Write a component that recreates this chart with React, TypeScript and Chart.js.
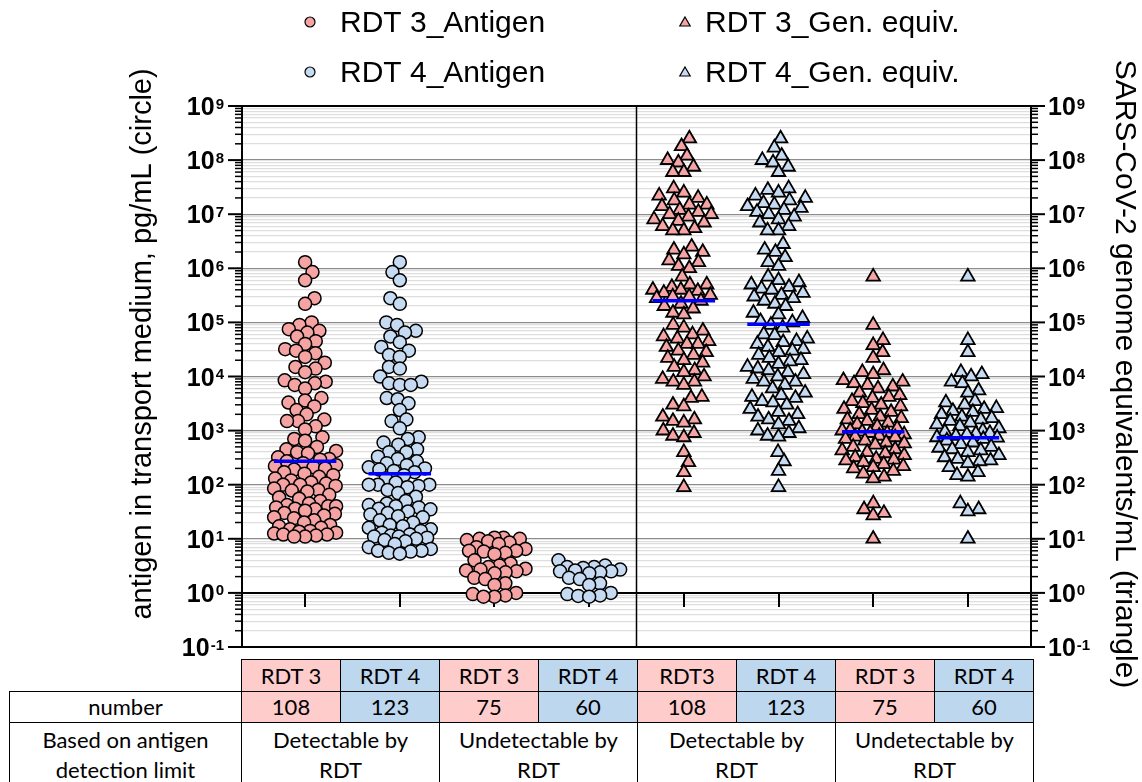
import React, { useEffect, useRef } from "react";
import { Chart, registerables } from "chart.js";

Chart.register(...registerables);

// ---------------- data ----------------
const CATEGORY_LABELS = ["RDT 3", "RDT 4", "RDT 3", "RDT 4", "RDT3", "RDT 4", "RDT 3", "RDT 4"];
const NUMBERS = [108, 123, 75, 60, 108, 123, 75, 60];
const GROUP_LABELS = ["Detectable by\nRDT", "Undetectable by\nRDT", "Detectable by\nRDT", "Undetectable by\nRDT"];
const ROW_LABELS = ["number", "Based on antigen\ndetection limit"];
const SERIES_NAMES = ["RDT 3_Antigen", "RDT 4_Antigen", "RDT 3_Gen. equiv.", "RDT 4_Gen. equiv."];
const LEFT_TITLE = "antigen in transport medium, pg/mL (circle)";
const RIGHT_TITLE = "SARS-CoV-2 genome equivalents/mL (triangle)";
const EXPONENTS = [-1, 0, 1, 2, 3, 4, 5, 6, 7, 8, 9];
const SIGNIFICANDS = [1, 2, 3, 4, 5, 6, 7, 8, 9];

// medians (blue bars); null = no bar
const MEDIANS = [270, 160, null, null, 2.5e5, 9.2e4, 950, 740];

// antigen, pg/mL (circles)
const AG_RDT3_DETECT = [1.3e6, 8.5e5, 6e5, 2.8e5, 2.2e5,
  1e5, 9e4, 7.5e4, 7e4, 6.5e4, 5.5e4, 4.5e4, 4e4, 3.2e4, 3e4, 2.7e4, 2.3e4, 1.8e4, 1.5e4, 1.4e4, 1.2e4,
  8.5e3, 8e3, 7.5e3, 7e3, 6e3, 4e3, 3.6e3, 3.3e3, 2.8e3, 2.4e3, 2e3, 1.6e3, 1.5e3, 1.5e3, 1.2e3, 1.05e3,
  750, 700, 650, 500, 450, 420, 400, 380, 320, 300, 290, 270, 250, 230, 220, 210, 200, 190, 170, 160,
  150, 140, 130, 120, 110, 105, 100, 100, 95, 85, 80, 78, 75, 65, 58, 55, 50, 45, 42, 40, 40, 38, 36,
  35, 33, 30, 29, 27, 25, 24, 22, 20, 18, 17, 16, 15, 14, 13.5, 13, 12.5, 12, 12, 11.5, 11, 11];
const AG_RDT4_DETECT = [1.3e6, 8.5e5, 6e5, 2.8e5, 2.2e5,
  1e5, 9e4, 7e4, 6.5e4, 5.5e4, 4.3e4, 3.5e4, 3e4, 2.5e4, 2.3e4, 1.5e4, 1.4e4, 1e4,
  8e3, 7.5e3, 7e3, 7e3, 4e3, 3.8e3, 3.2e3, 2.4e3, 1.6e3, 1.5e3, 1.1e3,
  750, 700, 600, 550, 450, 400, 400, 330, 300, 270, 250, 230, 210, 200, 190, 180, 170, 150, 130, 110,
  100, 100, 100, 95, 90, 80, 70, 60, 50, 45, 42, 40, 38, 36, 35, 32, 30, 28, 26, 25, 22, 20, 18, 17,
  16, 15, 14, 13, 12, 11.5, 11, 11, 10.5, 10, 9.5, 9, 8, 7, 6.5, 6, 6, 5.8, 5.5, 5.3];
const AG_RDT3_UNDET = [10.5, 10.5, 10, 10, 9.5, 9, 8.5, 8, 7, 6.5, 6, 6, 5.8, 5.5, 5.2, 4, 3.5, 3.2, 3,
  2.8, 2.7, 2.6, 2.5, 2.4, 2.3, 1.9, 1.8, 1.5, 1.4, 1.0, 0.95, 0.9, 0.85, 0.85];
const AG_RDT4_UNDET = [4, 3.2, 3, 3, 2.9, 2.7, 2.6, 2.5, 2.5, 2.4, 2.3, 1.9, 1.8, 1.5, 1.4, 1.0, 0.95,
  0.9, 0.88, 0.85];

// genome equivalents/mL (triangles)
const GE_RDT3_DETECT = [2.5e8, 1.8e8, 1.2e8, 1e8, 9e7, 7.5e7, 6e7, 6e7,
  3e7, 2.5e7, 2.2e7, 2e7, 1.8e7, 1.5e7, 1.5e7, 1.4e7, 1.2e7, 1.1e7, 1e7, 1e7, 9e6, 8e6, 7.5e6, 7e6,
  6e6, 5.5e6, 5e6, 5e6, 2.5e6, 2.2e6, 2e6, 1.8e6, 1.4e6, 1.3e6, 1.1e6, 1e6,
  7e5, 5e5, 5e5, 4.5e5, 4e5, 4e5, 3.8e5, 3.5e5, 3.2e5, 3e5, 3e5, 2.8e5, 2.5e5, 2.2e5, 2e5, 1.8e5,
  1.5e5, 1.4e5, 9e4, 8e4, 7e4, 6e4, 5.5e4, 5e4, 4.5e4, 4e4, 4e4, 3.5e4, 3e4, 2.8e4, 2.5e4, 2.2e4,
  2e4, 1.8e4, 1.5e4, 1.3e4, 1.2e4, 1e4, 9e3, 8e3, 8e3, 7e3, 4.2e3, 4e3, 3e3, 2.8e3, 1.8e3, 1.6e3,
  1.5e3, 1.4e3, 1e3, 900, 800, 750, 400, 260, 170, 90];
const GE_RDT4_DETECT = [2.5e8, 1.7e8, 1.2e8, 1e8, 9e7, 7.5e7, 6e7,
  3e7, 2.8e7, 2.5e7, 2.2e7, 2e7, 1.8e7, 1.6e7, 1.5e7, 1.4e7, 1.3e7, 1.2e7, 1.1e7, 1e7, 9e6, 8e6, 7e6,
  6e6, 5e6, 5e6, 2.8e6, 2.2e6, 2e6, 1.6e6, 1.3e6, 1.1e6,
  7e5, 6e5, 5.5e5, 5e5, 4.5e5, 4.2e5, 4e5, 3.5e5, 3.2e5, 3e5, 2.8e5, 2.5e5, 2.2e5, 2e5, 1.5e5, 1.4e5,
  1.2e5, 1.05e5, 1e5, 9e4, 8e4, 6e4, 5.8e4, 5e4, 4.5e4, 4.3e4, 4e4, 3.5e4, 3.2e4, 3e4, 2.8e4, 2.5e4,
  2.2e4, 2e4, 1.9e4, 1.7e4, 1.5e4, 1.4e4, 1.3e4, 1.2e4, 1.1e4, 1e4, 9e3, 8e3, 8e3, 7e3,
  6e3, 5e3, 4.5e3, 4.2e3, 4e3, 3.5e3, 3.3e3, 3e3, 2.5e3, 2.2e3, 2e3, 1.8e3, 1.6e3, 1.5e3, 1.3e3,
  1.1e3, 1e3, 900, 800, 770, 400, 270, 180, 90];
const GE_RDT3_UNDET = [7e5, 9e4, 4.7e4, 3.8e4, 2.8e4, 2.2e4, 1.3e4, 1.2e4, 1.1e4, 8.5e3, 8e3, 7.5e3,
  7e3, 6.5e3, 6e3, 5e3, 4.5e3, 4.2e3, 4e3, 3.5e3, 3.2e3, 3e3, 2.8e3, 2.5e3, 2.4e3, 2.2e3, 2e3, 1.8e3,
  1.7e3, 1.6e3, 1.5e3, 1.4e3, 1.3e3, 1.2e3, 1.1e3, 1e3, 1e3, 950, 900, 900, 850, 800, 770, 750, 700,
  650, 600, 580, 550, 500, 450, 430, 400, 380, 350, 320, 300, 290, 280, 260, 240, 220, 210, 200, 180,
  160, 140, 130, 45, 35, 30, 27, 10];
const GE_RDT4_UNDET = [7e5, 4.7e4, 2.8e4, 1.2e4, 1.1e4, 1e4, 8e3, 7.5e3, 5.5e3, 5e3, 3.5e3, 3.3e3,
  3e3, 2.6e3, 2.5e3, 2.3e3, 2.2e3, 2e3, 1.8e3, 1.7e3, 1.6e3, 1.5e3, 1.4e3, 1.3e3, 1.2e3, 1.1e3, 1e3,
  950, 900, 880, 850, 800, 750, 740, 700, 650, 600, 560, 500, 480, 450, 430, 400, 350, 320, 300, 280,
  270, 250, 210, 170, 150, 140, 45, 35, 32, 10];

// ---------------- styles / layout ----------------
const W = 1142;
const H = 782;
const PINK = "#F5A3A3";
const BLUE = "#C6DBF1";
const CELL_PINK = "#FFCCCC";
const CELL_BLUE = "#BDD7EE";
const GRID_MAJOR = "#8c8c8c";
const GRID_MINOR = "#dedede";
const FONT = "'Liberation Sans', Arial, Helvetica, sans-serif";
const TABLE_FONT = "Lato, 'Open Sans', sans-serif";
const X_MIN = 1 / 3;
const X_MAX = 8 + 2 / 3;
const DIVIDER_AT = 4.5;
const MEDIAN_HALF = 0.33;
const PX_PER_CAT = 94.7;
const PX_PER_DECADE = 54.1;

const TICK_VALUES: number[] = [];
EXPONENTS.forEach((e) => {
  SIGNIFICANDS.forEach((s) => {
    const v = s * Math.pow(10, e);
    if (v <= Math.pow(10, EXPONENTS[EXPONENTS.length - 1]) * 1.0000001) TICK_VALUES.push(v);
  });
});

const isDecade = (v: number) => Math.abs(Math.log10(v) - Math.round(Math.log10(v))) < 1e-9;

// deterministic beeswarm layout: returns horizontal offsets in category units
function swarmOffsets(values: number[], diameter: number, cap: number): number[] {
  const order = values.map((_, i) => i).sort((a, b) => values[a] - values[b]);
  const placed: { x: number; y: number }[] = [];
  const out = new Array(values.length).fill(0);
  const D2 = diameter * diameter;
  order.forEach((i, k) => {
    const y = Math.log10(values[i]) * PX_PER_DECADE;
    const near = placed.filter((p) => Math.abs(p.y - y) < diameter);
    const cands = [0];
    near.forEach((p) => {
      const dx = Math.sqrt(D2 - (p.y - y) * (p.y - y));
      cands.push(p.x + dx, p.x - dx);
    });
    const pref = k % 2 === 0 ? 1 : -1;
    cands.sort((a, b) => (Math.abs(a) - (Math.sign(a) === pref ? 1e-6 : 0)) - (Math.abs(b) - (Math.sign(b) === pref ? 1e-6 : 0)));
    let best = NaN;
    for (const c of cands) {
      if (Math.abs(c) > cap) continue;
      if (near.every((p) => (p.x - c) * (p.x - c) + (p.y - y) * (p.y - y) >= D2 - 1e-6)) {
        best = c;
        break;
      }
    }
    if (isNaN(best)) {
      let bm = -1;
      for (let c = -cap; c <= cap; c += 1) {
        const m = Math.min(...near.map((p) => (p.x - c) * (p.x - c) + (p.y - y) * (p.y - y)));
        if (m > bm) {
          bm = m;
          best = c;
        }
      }
    }
    placed.push({ x: best, y });
    out[i] = best / PX_PER_CAT;
  });
  return out;
}

function pointsFor(values: number[], category: number) {
  const offs = swarmOffsets(values, 11, 31);
  return values.map((v, i) => ({ x: category + offs[i], y: v }));
}

const medianData: { x: number; y: number | null }[] = [];
MEDIANS.forEach((m, i) => {
  if (m == null) return;
  medianData.push({ x: i + 1 - MEDIAN_HALF, y: m }, { x: i + 1 + MEDIAN_HALF, y: m }, { x: i + 1 + MEDIAN_HALF, y: null });
});

function line(ctx: CanvasRenderingContext2D, x1: number, y1: number, x2: number, y2: number) {
  ctx.beginPath();
  ctx.moveTo(x1, y1);
  ctx.lineTo(x2, y2);
  ctx.stroke();
}

function drawTriangle(ctx: CanvasRenderingContext2D, x: number, y: number, r: number) {
  ctx.beginPath();
  for (let k = 0; k < 3; k++) {
    const a = (k * 2 * Math.PI) / 3;
    const px = x + Math.sin(a) * r;
    const py = y - Math.cos(a) * r;
    if (k === 0) ctx.moveTo(px, py);
    else ctx.lineTo(px, py);
  }
  ctx.closePath();
}

const decorPlugin = {
  id: "decor",
  beforeDatasetsDraw(chart: any) {
    const { ctx, chartArea: a, scales } = chart;
    const xs = scales.x;
    const ys = scales.y;
    ctx.save();
    ctx.strokeStyle = "#000";
    ctx.lineWidth = 1.5;
    const xm = xs.getPixelForValue(DIVIDER_AT);
    line(ctx, xm, a.top, xm, a.bottom);
    const y1 = ys.getPixelForValue(1);
    ctx.lineWidth = 2;
    CATEGORY_LABELS.forEach((_, i) => {
      const px = Math.round(xs.getPixelForValue(i + 1));
      line(ctx, px, y1, px, y1 + 14);
    });
    ctx.restore();
  },
  afterDraw(chart: any) {
    const { ctx, chartArea: a, scales } = chart;
    const ys = scales.y;
    ctx.save();
    ctx.strokeStyle = "#000";
    ctx.fillStyle = "#000";
    ctx.lineWidth = 2;
    ctx.strokeRect(a.left, a.top, a.right - a.left, a.bottom - a.top);

    // y ticks (major/minor)
    TICK_VALUES.forEach((v) => {
      const py = ys.getPixelForValue(v);
      const major = isDecade(v);
      const len = major ? 14 : 7;
      ctx.lineWidth = major ? 2 : 1.5;
      line(ctx, a.left - len, py, a.left, py);
      line(ctx, a.right, py, a.right + len, py);
    });

    // tick labels 10^n
    ctx.textBaseline = "alphabetic";
    ctx.textAlign = "left";
    EXPONENTS.forEach((e) => {
      const py = ys.getPixelForValue(Math.pow(10, e));
      const ex = String(e);
      ctx.font = `bold 15px ${FONT}`;
      const we = ctx.measureText(ex).width;
      ctx.font = `bold 25px ${FONT}`;
      const wb = ctx.measureText("10").width;
      const lr = a.left - 18;
      ctx.fillText("10", lr - we - wb - 1, py + 9);
      const rl = a.right + 17;
      ctx.fillText("10", rl, py + 9);
      ctx.font = `bold 15px ${FONT}`;
      ctx.fillText(ex, lr - we, py + 2.5);
      ctx.fillText(ex, rl + wb + 1, py + 2.5);
    });

    // axis titles
    ctx.textAlign = "center";
    ctx.font = `29px ${FONT}`;
    ctx.save();
    ctx.translate(151, 344);
    ctx.rotate(-Math.PI / 2);
    ctx.fillText(LEFT_TITLE, 0, 0);
    ctx.restore();
    ctx.font = `30px ${FONT}`;
    ctx.save();
    ctx.translate(1116, 374);
    ctx.rotate(Math.PI / 2);
    ctx.fillText(RIGHT_TITLE, 0, 0);
    ctx.restore();

    // legend (2 x 2)
    const legend = [
      { name: SERIES_NAMES[0], color: PINK, tri: false, mx: 310, tx: 340, by: 32 },
      { name: SERIES_NAMES[2], color: PINK, tri: true, mx: 685, tx: 705, by: 32 },
      { name: SERIES_NAMES[1], color: BLUE, tri: false, mx: 310, tx: 340, by: 82 },
      { name: SERIES_NAMES[3], color: BLUE, tri: true, mx: 685, tx: 705, by: 82 },
    ];
    ctx.textAlign = "left";
    ctx.font = `30px ${FONT}`;
    legend.forEach((l) => {
      const cy = l.by - 10;
      ctx.fillStyle = l.color;
      ctx.strokeStyle = "#000";
      ctx.lineWidth = 1.2;
      if (l.tri) {
        drawTriangle(ctx, l.mx, cy + 1, 6);
      } else {
        ctx.beginPath();
        ctx.arc(l.mx, cy, 5, 0, Math.PI * 2);
      }
      ctx.fill();
      ctx.stroke();
      ctx.fillStyle = "#000";
      ctx.fillText(l.name, l.tx, l.by);
    });
    ctx.restore();
  },
};

function buildConfig(): any {
  const circle = (label: string, color: string, data: any[]) => ({
    label,
    data,
    yAxisID: "y",
    pointStyle: "circle",
    pointRadius: 6.5,
    pointBackgroundColor: color,
    pointBorderColor: "#000",
    pointBorderWidth: 1.5,
    showLine: false,
    order: 2,
  });
  const tri = (label: string, color: string, data: any[]) => ({
    label,
    data,
    yAxisID: "y2",
    pointStyle: "triangle",
    pointRadius: 7.8,
    pointBackgroundColor: color,
    pointBorderColor: "#000",
    pointBorderWidth: 1.8,
    showLine: false,
    order: 2,
  });
  return {
    type: "scatter",
    data: {
      datasets: [
        {
          label: "median",
          data: medianData,
          yAxisID: "y",
          showLine: true,
          spanGaps: false,
          borderColor: "#0000FF",
          borderWidth: 3.5,
          pointRadius: 0,
          order: 0,
        },
        circle(SERIES_NAMES[0], PINK, [...pointsFor(AG_RDT3_DETECT, 1), ...pointsFor(AG_RDT3_UNDET, 3)]),
        circle(SERIES_NAMES[1], BLUE, [...pointsFor(AG_RDT4_DETECT, 2), ...pointsFor(AG_RDT4_UNDET, 4)]),
        tri(SERIES_NAMES[2], PINK, [...pointsFor(GE_RDT3_DETECT, 5), ...pointsFor(GE_RDT3_UNDET, 7)]),
        tri(SERIES_NAMES[3], BLUE, [...pointsFor(GE_RDT4_DETECT, 6), ...pointsFor(GE_RDT4_UNDET, 8)]),
      ],
    },
    options: {
      responsive: false,
      animation: false,
      devicePixelRatio: 1,
      layout: { padding: { left: 0, right: 0, top: 106, bottom: H - 647 } },
      plugins: { legend: { display: false }, tooltip: { enabled: false } },
      scales: {
        x: { type: "linear", min: X_MIN, max: X_MAX, display: false },
        y: {
          type: "logarithmic",
          position: "left",
          min: Math.pow(10, EXPONENTS[0]),
          max: Math.pow(10, EXPONENTS[EXPONENTS.length - 1]),
          afterBuildTicks: (s: any) => {
            s.ticks = TICK_VALUES.map((v) => ({ value: v, major: isDecade(v) }));
          },
          afterFit: (s: any) => {
            s.width = 242;
          },
          ticks: { display: false },
          border: { display: false },
          grid: {
            drawTicks: false,
            color: (c: any) => {
              const v = c.tick && c.tick.value;
              if (v == null) return GRID_MINOR;
              if (Math.abs(v - 1) < 1e-9) return "#000";
              return isDecade(v) ? GRID_MAJOR : GRID_MINOR;
            },
            lineWidth: (c: any) => {
              const v = c.tick && c.tick.value;
              if (v == null) return 1;
              if (Math.abs(v - 1) < 1e-9) return 2;
              return 1.3;
            },
          },
        },
        y2: {
          type: "logarithmic",
          position: "right",
          min: Math.pow(10, EXPONENTS[0]),
          max: Math.pow(10, EXPONENTS[EXPONENTS.length - 1]),
          afterFit: (s: any) => {
            s.width = 111;
          },
          ticks: { display: false },
          border: { display: false },
          grid: { display: false, drawTicks: false },
        },
      },
    },
    plugins: [decorPlugin],
  };
}

const TABLE_TOP = 659;
const COL0_LEFT = 9;
const COL_LEFT = 241;
const COL_W = 99;
const ROW_H = [32, 31, 66];

function Cell(props: { left: number; top: number; width: number; height: number; bg?: string; text: string; lineHeight?: number; alignTop?: boolean }) {
  const { left, top, width, height, bg, text, lineHeight, alignTop } = props;
  return (
    <div
      style={{
        position: "absolute",
        left,
        top,
        width: width + 1,
        height: height + 1,
        boxSizing: "border-box",
        border: "1.5px solid #000",
        background: bg || "#fff",
        display: "flex",
        alignItems: alignTop ? "flex-start" : "center",
        justifyContent: "center",
        textAlign: "center",
        whiteSpace: "pre-line",
        fontFamily: TABLE_FONT,
        fontSize: 22,
        lineHeight: `${lineHeight || 24}px`,
        paddingTop: alignTop ? 2 : 0,
        color: "#000",
      }}
    >
      {text}
    </div>
  );
}

export default function App() {
  const ref = useRef<HTMLCanvasElement>(null);
  useEffect(() => {
    if (!ref.current) return;
    const chart = new Chart(ref.current, buildConfig());
    return () => chart.destroy();
  }, []);

  const r1 = TABLE_TOP;
  const r2 = r1 + ROW_H[0];
  const r3 = r2 + ROW_H[1];
  return (
    <div style={{ position: "absolute", left: 0, top: 0, width: W, height: H, overflow: "hidden", background: "#fff" }}>
      <canvas ref={ref} width={W} height={H} style={{ position: "absolute", left: 0, top: 0, width: W, height: H }} />
      {CATEGORY_LABELS.map((c, i) => (
        <Cell key={"h" + i} left={COL_LEFT + i * COL_W} top={r1} width={COL_W} height={ROW_H[0]} bg={i % 2 === 0 ? CELL_PINK : CELL_BLUE} text={c} />
      ))}
      <Cell left={COL0_LEFT} top={r2} width={COL_LEFT - COL0_LEFT} height={ROW_H[1]} text={ROW_LABELS[0]} />
      {NUMBERS.map((n, i) => (
        <Cell key={"n" + i} left={COL_LEFT + i * COL_W} top={r2} width={COL_W} height={ROW_H[1]} bg={i % 2 === 0 ? CELL_PINK : CELL_BLUE} text={String(n)} />
      ))}
      <Cell left={COL0_LEFT} top={r3} width={COL_LEFT - COL0_LEFT} height={ROW_H[2]} text={ROW_LABELS[1]} lineHeight={30} alignTop />
      {GROUP_LABELS.map((g, i) => (
        <Cell key={"g" + i} left={COL_LEFT + i * 2 * COL_W} top={r3} width={2 * COL_W} height={ROW_H[2]} text={g} lineHeight={30} alignTop />
      ))}
    </div>
  );
}
